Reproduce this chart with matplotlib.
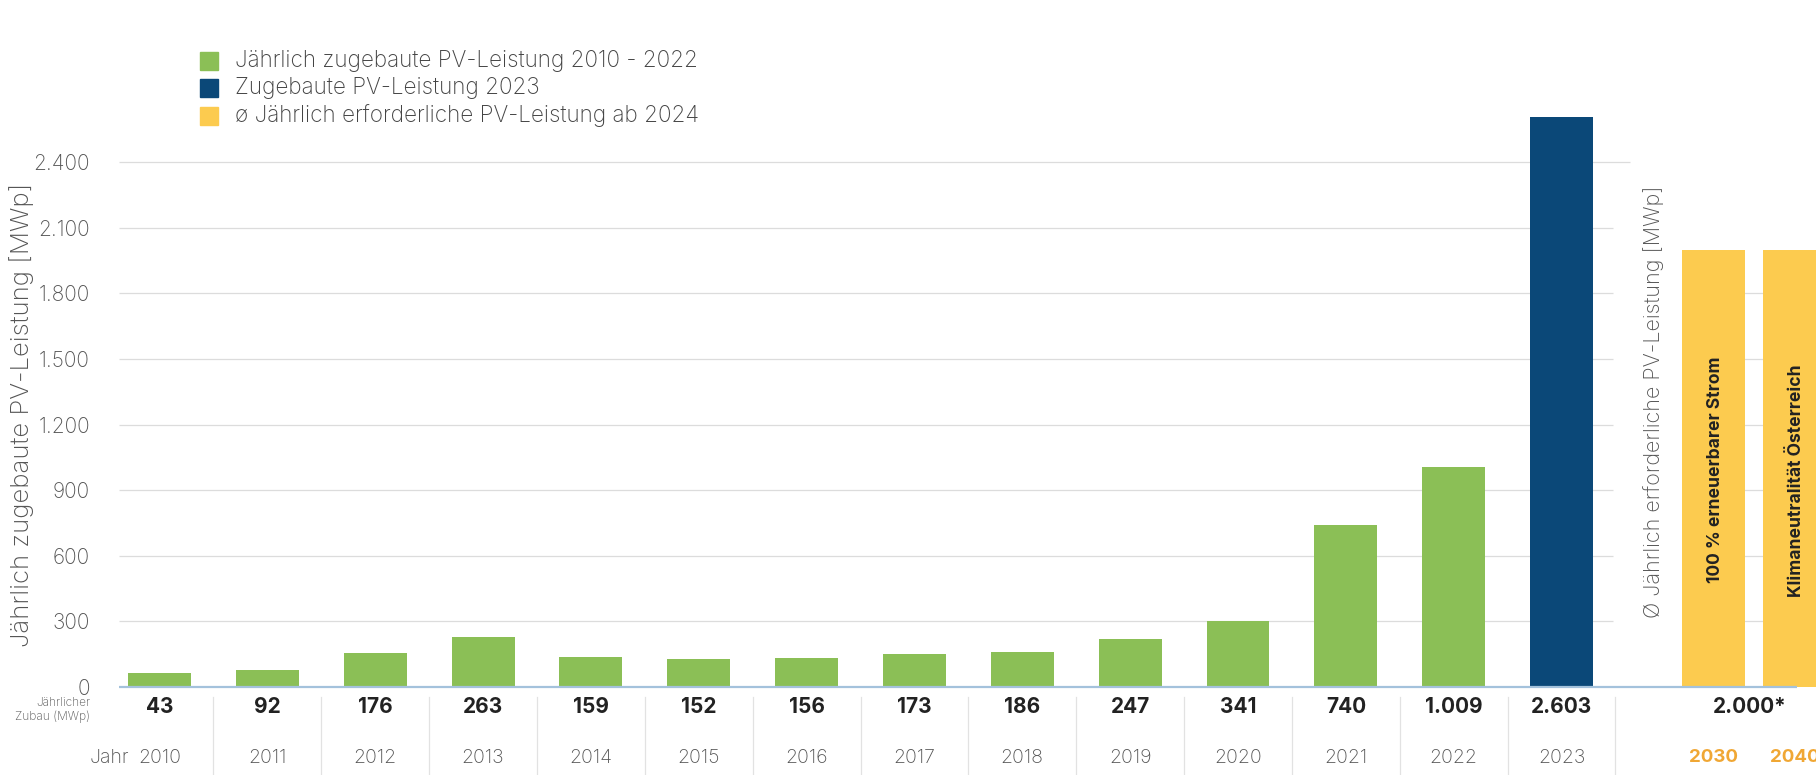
import matplotlib
matplotlib.use("Agg")
import matplotlib.pyplot as plt
from matplotlib.patches import Rectangle
from matplotlib.transforms import blended_transform_factory
import numpy as np

plt.rcParams['font.family'] = ['Inter', 'Roboto', 'DejaVu Sans']

# ---------------- data ----------------
years_hist = ["2010", "2011", "2012", "2013", "2014", "2015", "2016",
              "2017", "2018", "2019", "2020", "2021", "2022", "2023"]
bar_heights_hist = [64, 79, 155, 230, 138, 130, 133, 153, 161, 219, 302, 740, 1004, 2607]
table_values_hist = ["43", "92", "176", "263", "159", "152", "156", "173",
                     "186", "247", "341", "740", "1.009", "2.603"]
years_target = ["2030", "2040"]
bar_heights_target = [2000, 2000]
table_value_target = "2.000*"
target_bar_labels = ["100 % erneuerbarer Strom", "Klimaneutralität Österreich"]
legend_labels = ["Jährlich zugebaute PV-Leistung 2010 - 2022",
                 "Zugebaute PV-Leistung 2023",
                 "ø Jährlich erforderliche PV-Leistung ab 2024"]
y_ticks = [0, 300, 600, 900, 1200, 1500, 1800, 2100, 2400]
y_label = "Jährlich zugebaute PV-Leistung [MWp]"
y_label_right = "Ø Jährlich erforderliche PV-Leistung [MWp]"

# ---------------- style ----------------
GREEN = "#8bbf56"
NAVY = "#0b4878"
YELLOW = "#fccb4f"
ORANGE = "#f0a734"
GRAY = "#555555"
DARK = "#222222"
GRID = "#dcdcdc"
BASE = "#a4c2dc"
LW = 'light'

W, H = 1816, 775
fig = plt.figure(figsize=(W / 100, H / 100), dpi=100)

X0, SLOT = 159.5, 107.85          # pixel centre of first slot, pixel per slot
def px2x(px):
    return (px - X0) / SLOT
def fy(py):
    return 1 - py / H

ax_left_px, base_px = 119, 687
ax = fig.add_axes([ax_left_px / W, fy(base_px), 1 - ax_left_px / W, base_px / H])
px_per_unit = 65.6 / 300
ax.set_xlim(px2x(ax_left_px), px2x(W))
ax.set_ylim(0, base_px / px_per_unit)
for s in ax.spines.values():
    s.set_visible(False)
ax.set_xticks([])
ax.set_yticks(y_ticks)
ax.set_yticklabels([f"{v:,}".replace(",", ".") for v in y_ticks],
                   fontsize=15, color=GRAY, fontweight=LW)
ax.tick_params(axis='y', length=0, pad=21)
ax.get_yticklabels()[0].set_y(12)  # lift "0" slightly as in the reference

# grid lines
xl, xr = px2x(ax_left_px), px2x(W)
for v in y_ticks[1:]:
    if v == 2400:
        ax.hlines(v, xl, px2x(1630), color=GRID, lw=0.9, zorder=0)
    elif v == 2100:
        ax.hlines(v, xl, px2x(1613), color=GRID, lw=0.9, zorder=0)
    else:
        ax.hlines(v, xl, px2x(1613), color=GRID, lw=0.9, zorder=0)
        ax.hlines(v, px2x(1682), xr, color=GRID, lw=0.9, zorder=0)

# bars
x_hist = np.arange(len(years_hist))
colors_hist = [GREEN] * (len(years_hist) - 1) + [NAVY]
bw = 0.584
ax.bar(x_hist, bar_heights_hist, width=bw, color=colors_hist, zorder=2)
x_target = np.array([px2x(1713.5), px2x(1794.5)])
ax.bar(x_target, bar_heights_target, width=bw, color=YELLOW, zorder=2)
for xt, lab, yc in zip(x_target, target_bar_labels, [470, 481]):
    ax.text(xt + 0.02, (base_px - yc) / px_per_unit, lab, rotation=90, ha='center',
            va='center', fontsize=12.6, fontweight='bold', color=DARK, zorder=3)

# baseline
ax.hlines(0, xl, px2x(1797), color=BASE, lw=1.6, zorder=3, clip_on=False)

# right rotated label
ax.text(px2x(1654), (base_px - 402) / px_per_unit, y_label_right, rotation=90,
        ha='center', va='center', fontsize=15.5, color=GRAY, fontweight=LW, zorder=3)

# y label
fig.text(22 / W, fy(415), y_label, rotation=90, ha='center', va='center',
         fontsize=18.5, color=GRAY, fontweight=LW)

# legend
leg_colors = [GREEN, NAVY, YELLOW]
for i, (lab, c) in enumerate(zip(legend_labels, leg_colors)):
    cy = 60.5 + i * 27.5
    fig.patches.append(Rectangle((200 / W, fy(cy + 9)), 18 / W, 18 / H,
                                 transform=fig.transFigure, color=c))
    fig.text(235 / W, fy(cy), lab, ha='left', va='center', fontsize=16.2,
             color="#444444", fontweight=LW)

# table below
tr = blended_transform_factory(ax.transData, fig.transFigure)
for i in range(len(years_hist)):
    ax.text(x_hist[i], fy(707), table_values_hist[i], transform=tr, ha='center',
            va='center', fontsize=15, fontweight='bold', color=DARK)
    ax.text(x_hist[i], fy(758), years_hist[i], transform=tr, ha='center',
            va='center', fontsize=14, color=GRAY, fontweight=LW)
    ax.plot([x_hist[i] + 0.5] * 2, [fy(697), fy(775)], transform=tr,
            color="#e2e2e2", lw=0.9, clip_on=False)
ax.text(x_target.mean() - 0.04, fy(707), table_value_target, transform=tr,
        ha='center', va='center', fontsize=15, fontweight='bold', color=DARK)
for xt, yr in zip(x_target, years_target):
    ax.text(xt, fy(758), yr, transform=tr, ha='center', va='center',
            fontsize=13.5, fontweight='bold', color=ORANGE)

fig.text(90 / W, fy(703), "Jährlicher", ha='right', va='center', fontsize=8.5,
         color=GRAY, fontweight=LW)
fig.text(90 / W, fy(717), "Zubau (MWp)", ha='right', va='center', fontsize=8.5,
         color=GRAY, fontweight=LW)
fig.text(109 / W, fy(758), "Jahr", ha='center', va='center', fontsize=14,
         color=GRAY, fontweight=LW)

fig.savefig("out.png", dpi=100, facecolor="white")
